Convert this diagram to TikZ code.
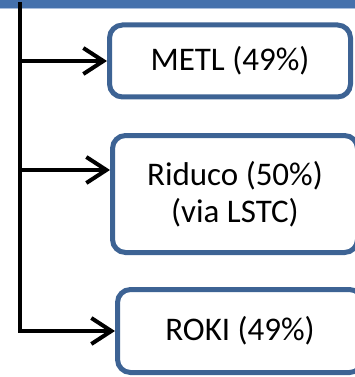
\documentclass[tikz,border=0pt]{standalone}
\usepackage{fontspec}
\setmainfont{Carlito}
\usetikzlibrary{arrows.meta}
\definecolor{boxblue}{HTML}{3D6394}
\definecolor{bandblue}{HTML}{4571AC}
\definecolor{bandlight}{HTML}{A9BEDC}
\begin{document}
\begin{tikzpicture}[x=1pt,y=-1pt,
  entity/.style={draw=boxblue, line width=5pt, rounded corners=13pt, fill=white,
    align=center, font=\fontsize{33}{37}\selectfont, inner sep=0pt},
  link/.style={line width=4pt, line join=miter, -{Straight Barb[length=20pt,width=26pt,line join=miter]}},
  band/.style={fill=bandblue, draw=none}
]
\useasboundingbox (0,0) rectangle (355,377);
\fill[band] (0,0) rectangle (355,8);
\fill[bandlight] (0,8) rectangle (355,9.5);
\node[entity, minimum width=241pt, minimum height=72pt] (metl) at (230,61) {METL (49\%)};
\node[entity, minimum width=245pt, minimum height=117pt] (riduco) at (235,194) {Riduco (50\%)\\(via LSTC)};
\node[entity, minimum width=245pt, minimum height=83pt] (roki) at (240,331) {ROKI (49\%)};
\coordinate (top) at (20,2);
\coordinate (a1) at (20,61);
\coordinate (a2) at (20,170);
\coordinate (bend) at (20,331);
\draw[link] (top) -- (bend) -- (roki.west);
\draw[link] (a1) -- (metl.west);
\draw[link] (a2) -- (a2 -| riduco.west);
\end{tikzpicture}
\end{document}
